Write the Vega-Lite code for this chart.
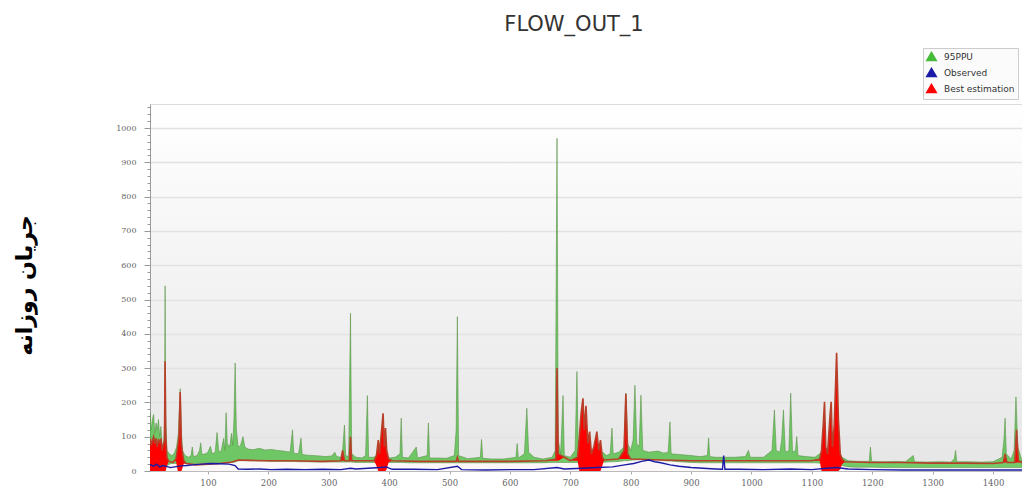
{
  "$schema": "https://vega.github.io/schema/vega-lite/v6.json",
  "width": 872,
  "height": 367,
  "autosize": {"type": "none"},
  "padding": {"left": 150, "top": 104, "right": 0, "bottom": 17},
  "background": "#ffffff",
  "title": {"text": "FLOW_OUT_1", "font": "DejaVu Sans", "fontSize": 21, "fontWeight": "normal", "color": "#333333", "anchor": "middle", "dx": -12, "offset": -4, "baseline": "alphabetic"},
  "config": {
    "view": {"stroke": "#dddddd", "fill": {"gradient": "linear", "x1": 0, "y1": 0, "x2": 0, "y2": 1, "stops": [{"offset": 0, "color": "#ffffff"}, {"offset": 1, "color": "#e6e6e6"}]}}
  },
  "datasets": {
    "ppu": [
      {"t":0,"lo":14,"hi":60},{"t":2,"lo":14,"hi":110},{"t":4,"lo":14,"hi":170},{"t":6,"lo":14,"hi":120},{"t":8,"lo":14,"hi":150},{"t":10,"lo":14,"hi":165},{"t":12,"lo":14,"hi":110},{"t":14,"lo":14,"hi":140},{"t":16,"lo":14,"hi":120},{"t":18,"lo":14,"hi":150},{"t":20,"lo":14,"hi":100},{"t":22,"lo":14,"hi":130},{"t":24,"lo":14,"hi":80},{"t":26,"lo":14,"hi":60},{"t":28,"lo":14,"hi":130},{"t":29,"lo":14,"hi":540},{"t":30,"lo":14,"hi":160},{"t":32,"lo":16,"hi":60},{"t":36,"lo":20,"hi":50},{"t":40,"lo":22,"hi":45},{"t":44,"lo":22,"hi":50},{"t":48,"lo":22,"hi":70},{"t":51,"lo":20,"hi":110},{"t":54,"lo":20,"hi":240},{"t":56,"lo":20,"hi":110},{"t":58,"lo":22,"hi":60},{"t":62,"lo":22,"hi":45},{"t":68,"lo":22,"hi":40},{"t":72,"lo":22,"hi":45},{"t":74,"lo":22,"hi":70},{"t":76,"lo":22,"hi":42},{"t":82,"lo":22,"hi":45},{"t":86,"lo":22,"hi":60},{"t":88,"lo":22,"hi":82},{"t":90,"lo":22,"hi":48},{"t":96,"lo":24,"hi":50},{"t":100,"lo":24,"hi":55},{"t":104,"lo":24,"hi":72},{"t":107,"lo":24,"hi":50},{"t":112,"lo":24,"hi":55},{"t":115,"lo":24,"hi":112},{"t":118,"lo":24,"hi":55},{"t":122,"lo":24,"hi":60},{"t":126,"lo":24,"hi":95},{"t":128,"lo":24,"hi":60},{"t":130,"lo":24,"hi":170},{"t":132,"lo":24,"hi":80},{"t":136,"lo":25,"hi":70},{"t":139,"lo":25,"hi":110},{"t":141,"lo":25,"hi":75},{"t":143,"lo":26,"hi":150},{"t":145,"lo":26,"hi":315},{"t":147,"lo":28,"hi":120},{"t":150,"lo":30,"hi":70},{"t":154,"lo":30,"hi":75},{"t":158,"lo":30,"hi":100},{"t":161,"lo":30,"hi":70},{"t":166,"lo":30,"hi":64},{"t":175,"lo":30,"hi":62},{"t":185,"lo":29,"hi":66},{"t":195,"lo":29,"hi":61},{"t":205,"lo":28,"hi":63},{"t":215,"lo":28,"hi":60},{"t":225,"lo":28,"hi":58},{"t":232,"lo":28,"hi":56},{"t":236,"lo":28,"hi":55},{"t":240,"lo":28,"hi":120},{"t":242,"lo":28,"hi":52},{"t":250,"lo":27,"hi":50},{"t":254,"lo":27,"hi":96},{"t":256,"lo":27,"hi":48},{"t":265,"lo":27,"hi":46},{"t":275,"lo":26,"hi":45},{"t":285,"lo":26,"hi":44},{"t":295,"lo":26,"hi":42},{"t":305,"lo":26,"hi":44},{"t":310,"lo":26,"hi":55},{"t":313,"lo":26,"hi":42},{"t":320,"lo":26,"hi":40},{"t":323,"lo":26,"hi":60},{"t":326,"lo":26,"hi":134},{"t":328,"lo":26,"hi":45},{"t":333,"lo":26,"hi":42},{"t":336,"lo":26,"hi":460},{"t":338,"lo":26,"hi":50},{"t":345,"lo":25,"hi":40},{"t":355,"lo":25,"hi":38},{"t":361,"lo":25,"hi":45},{"t":364,"lo":25,"hi":220},{"t":366,"lo":25,"hi":40},{"t":375,"lo":25,"hi":40},{"t":389,"lo":25,"hi":60},{"t":400,"lo":25,"hi":38},{"t":410,"lo":25,"hi":40},{"t":418,"lo":25,"hi":50},{"t":420,"lo":25,"hi":154},{"t":422,"lo":25,"hi":40},{"t":432,"lo":24,"hi":38},{"t":445,"lo":24,"hi":70},{"t":447,"lo":24,"hi":38},{"t":463,"lo":24,"hi":45},{"t":465,"lo":24,"hi":140},{"t":467,"lo":24,"hi":38},{"t":480,"lo":24,"hi":38},{"t":495,"lo":24,"hi":37},{"t":508,"lo":24,"hi":45},{"t":511,"lo":24,"hi":120},{"t":513,"lo":24,"hi":450},{"t":515,"lo":24,"hi":45},{"t":530,"lo":24,"hi":36},{"t":551,"lo":24,"hi":40},{"t":553,"lo":24,"hi":92},{"t":555,"lo":24,"hi":37},{"t":570,"lo":24,"hi":35},{"t":590,"lo":24,"hi":35},{"t":610,"lo":24,"hi":40},{"t":612,"lo":24,"hi":80},{"t":614,"lo":24,"hi":38},{"t":624,"lo":24,"hi":50},{"t":628,"lo":24,"hi":183},{"t":631,"lo":24,"hi":55},{"t":640,"lo":24,"hi":40},{"t":655,"lo":24,"hi":35},{"t":670,"lo":25,"hi":40},{"t":675,"lo":25,"hi":60},{"t":678,"lo":25,"hi":970},{"t":680,"lo":25,"hi":90},{"t":684,"lo":25,"hi":50},{"t":688,"lo":25,"hi":220},{"t":690,"lo":25,"hi":45},{"t":700,"lo":25,"hi":40},{"t":708,"lo":25,"hi":60},{"t":711,"lo":25,"hi":290},{"t":713,"lo":25,"hi":80},{"t":722,"lo":25,"hi":120},{"t":735,"lo":25,"hi":60},{"t":750,"lo":25,"hi":60},{"t":760,"lo":26,"hi":45},{"t":766,"lo":27,"hi":50},{"t":769,"lo":27,"hi":125},{"t":771,"lo":27,"hi":50},{"t":780,"lo":28,"hi":55},{"t":789,"lo":30,"hi":70},{"t":792,"lo":30,"hi":227},{"t":795,"lo":30,"hi":80},{"t":800,"lo":31,"hi":60},{"t":804,"lo":32,"hi":90},{"t":807,"lo":32,"hi":250},{"t":810,"lo":33,"hi":80},{"t":814,"lo":33,"hi":70},{"t":817,"lo":34,"hi":221},{"t":820,"lo":34,"hi":60},{"t":830,"lo":34,"hi":55},{"t":845,"lo":32,"hi":58},{"t":855,"lo":30,"hi":52},{"t":862,"lo":29,"hi":55},{"t":865,"lo":29,"hi":143},{"t":867,"lo":29,"hi":50},{"t":880,"lo":27,"hi":48},{"t":900,"lo":25,"hi":45},{"t":915,"lo":24,"hi":42},{"t":927,"lo":24,"hi":45},{"t":929,"lo":24,"hi":96},{"t":931,"lo":24,"hi":42},{"t":940,"lo":24,"hi":40},{"t":970,"lo":24,"hi":40},{"t":990,"lo":24,"hi":42},{"t":995,"lo":24,"hi":60},{"t":998,"lo":24,"hi":40},{"t":1020,"lo":24,"hi":40},{"t":1034,"lo":24,"hi":60},{"t":1038,"lo":24,"hi":178},{"t":1041,"lo":24,"hi":60},{"t":1047,"lo":24,"hi":55},{"t":1050,"lo":24,"hi":90},{"t":1053,"lo":24,"hi":178},{"t":1056,"lo":24,"hi":55},{"t":1062,"lo":24,"hi":60},{"t":1065,"lo":24,"hi":227},{"t":1068,"lo":24,"hi":55},{"t":1073,"lo":24,"hi":60},{"t":1075,"lo":24,"hi":100},{"t":1077,"lo":24,"hi":45},{"t":1090,"lo":24,"hi":42},{"t":1105,"lo":24,"hi":40},{"t":1121,"lo":22,"hi":60},{"t":1141,"lo":20,"hi":60},{"t":1150,"lo":16,"hi":40},{"t":1160,"lo":12,"hi":30},{"t":1175,"lo":11,"hi":28},{"t":1195,"lo":11,"hi":28},{"t":1197,"lo":11,"hi":70},{"t":1199,"lo":11,"hi":28},{"t":1220,"lo":10,"hi":27},{"t":1240,"lo":10,"hi":28},{"t":1255,"lo":10,"hi":27},{"t":1268,"lo":10,"hi":45},{"t":1270,"lo":10,"hi":27},{"t":1290,"lo":10,"hi":26},{"t":1310,"lo":10,"hi":27},{"t":1330,"lo":10,"hi":26},{"t":1336,"lo":10,"hi":35},{"t":1338,"lo":10,"hi":60},{"t":1340,"lo":10,"hi":27},{"t":1360,"lo":10,"hi":27},{"t":1380,"lo":10,"hi":26},{"t":1400,"lo":10,"hi":27},{"t":1415,"lo":10,"hi":40},{"t":1418,"lo":10,"hi":90},{"t":1420,"lo":10,"hi":154},{"t":1422,"lo":10,"hi":50},{"t":1430,"lo":10,"hi":35},{"t":1435,"lo":10,"hi":60},{"t":1438,"lo":10,"hi":216},{"t":1441,"lo":10,"hi":70},{"t":1448,"lo":10,"hi":30}
    ],
    "best": [
      {"t":0,"hi":40,"lo":0},{"t":2,"hi":70,"lo":0},{"t":4,"hi":95,"lo":0},{"t":6,"hi":75,"lo":0},{"t":8,"hi":90,"lo":0},{"t":10,"hi":100,"lo":0},{"t":12,"hi":80,"lo":0},{"t":14,"hi":95,"lo":0},{"t":16,"hi":70,"lo":0},{"t":18,"hi":90,"lo":0},{"t":20,"hi":85,"lo":0},{"t":22,"hi":95,"lo":0},{"t":24,"hi":60,"lo":0},{"t":26,"hi":75,"lo":0},{"t":28,"hi":90,"lo":0},{"t":29,"hi":320,"lo":0},{"t":30,"hi":110,"lo":0},{"t":32,"hi":40,"lo":15},{"t":35,"hi":28,"lo":28},{"t":42,"hi":25,"lo":25},{"t":47,"hi":35,"lo":30},{"t":50,"hi":70,"lo":0},{"t":52,"hi":100,"lo":0},{"t":54,"hi":230,"lo":0},{"t":56,"hi":80,"lo":0},{"t":58,"hi":50,"lo":10},{"t":60,"hi":30,"lo":22},{"t":64,"hi":22,"lo":22},{"t":80,"hi":18,"lo":18},{"t":100,"hi":20,"lo":20},{"t":120,"hi":22,"lo":22},{"t":140,"hi":26,"lo":26},{"t":150,"hi":32,"lo":32},{"t":170,"hi":31,"lo":31},{"t":200,"hi":30,"lo":30},{"t":230,"hi":30,"lo":30},{"t":260,"hi":29,"lo":29},{"t":290,"hi":28,"lo":28},{"t":320,"hi":30,"lo":30},{"t":323,"hi":60,"lo":30},{"t":326,"hi":30,"lo":30},{"t":334,"hi":30,"lo":30},{"t":336,"hi":100,"lo":30},{"t":338,"hi":30,"lo":30},{"t":375,"hi":30,"lo":30},{"t":379,"hi":45,"lo":15},{"t":382,"hi":90,"lo":0},{"t":384,"hi":50,"lo":0},{"t":387,"hi":110,"lo":0},{"t":390,"hi":168,"lo":0},{"t":392,"hi":70,"lo":0},{"t":394,"hi":125,"lo":0},{"t":396,"hi":60,"lo":5},{"t":399,"hi":35,"lo":25},{"t":405,"hi":30,"lo":30},{"t":450,"hi":28,"lo":28},{"t":511,"hi":28,"lo":28},{"t":513,"hi":40,"lo":28},{"t":515,"hi":28,"lo":28},{"t":550,"hi":28,"lo":28},{"t":600,"hi":28,"lo":28},{"t":660,"hi":30,"lo":30},{"t":676,"hi":35,"lo":30},{"t":678,"hi":300,"lo":30},{"t":680,"hi":50,"lo":30},{"t":690,"hi":40,"lo":40},{"t":700,"hi":30,"lo":30},{"t":712,"hi":40,"lo":30},{"t":715,"hi":100,"lo":0},{"t":718,"hi":170,"lo":0},{"t":721,"hi":212,"lo":0},{"t":723,"hi":120,"lo":0},{"t":726,"hi":190,"lo":0},{"t":729,"hi":80,"lo":0},{"t":732,"hi":115,"lo":0},{"t":735,"hi":50,"lo":0},{"t":739,"hi":70,"lo":0},{"t":744,"hi":115,"lo":0},{"t":747,"hi":60,"lo":0},{"t":750,"hi":90,"lo":0},{"t":753,"hi":40,"lo":15},{"t":756,"hi":32,"lo":32},{"t":780,"hi":35,"lo":35},{"t":789,"hi":60,"lo":35},{"t":792,"hi":225,"lo":35},{"t":795,"hi":50,"lo":35},{"t":800,"hi":35,"lo":35},{"t":850,"hi":32,"lo":32},{"t":900,"hi":30,"lo":30},{"t":1000,"hi":30,"lo":30},{"t":1050,"hi":30,"lo":30},{"t":1100,"hi":30,"lo":30},{"t":1113,"hi":35,"lo":30},{"t":1116,"hi":60,"lo":0},{"t":1119,"hi":140,"lo":0},{"t":1121,"hi":202,"lo":0},{"t":1123,"hi":70,"lo":0},{"t":1126,"hi":50,"lo":0},{"t":1130,"hi":160,"lo":0},{"t":1132,"hi":202,"lo":0},{"t":1134,"hi":70,"lo":0},{"t":1137,"hi":130,"lo":0},{"t":1141,"hi":345,"lo":0},{"t":1144,"hi":150,"lo":0},{"t":1147,"hi":50,"lo":5},{"t":1150,"hi":35,"lo":20},{"t":1155,"hi":27,"lo":27},{"t":1200,"hi":25,"lo":25},{"t":1250,"hi":25,"lo":25},{"t":1300,"hi":23,"lo":23},{"t":1350,"hi":23,"lo":23},{"t":1400,"hi":22,"lo":22},{"t":1417,"hi":25,"lo":25},{"t":1420,"hi":50,"lo":25},{"t":1423,"hi":25,"lo":25},{"t":1436,"hi":25,"lo":25},{"t":1439,"hi":120,"lo":25},{"t":1442,"hi":30,"lo":25},{"t":1448,"hi":25,"lo":25}
    ],
    "obs": [
      {"t":0,"hi":15},{"t":5,"hi":18},{"t":10,"hi":14},{"t":15,"hi":20},{"t":20,"hi":12},{"t":25,"hi":16},{"t":30,"hi":14},{"t":38,"hi":10},{"t":45,"hi":12},{"t":55,"hi":15},{"t":65,"hi":16},{"t":75,"hi":18},{"t":90,"hi":20},{"t":105,"hi":22},{"t":120,"hi":21},{"t":135,"hi":20},{"t":145,"hi":16},{"t":150,"hi":6},{"t":165,"hi":5},{"t":185,"hi":6},{"t":205,"hi":4},{"t":230,"hi":5},{"t":260,"hi":4},{"t":290,"hi":5},{"t":320,"hi":4},{"t":336,"hi":8},{"t":345,"hi":6},{"t":365,"hi":8},{"t":385,"hi":10},{"t":395,"hi":12},{"t":405,"hi":5},{"t":440,"hi":5},{"t":480,"hi":4},{"t":513,"hi":14},{"t":520,"hi":4},{"t":560,"hi":3},{"t":600,"hi":4},{"t":640,"hi":4},{"t":678,"hi":10},{"t":690,"hi":6},{"t":720,"hi":8},{"t":745,"hi":10},{"t":770,"hi":12},{"t":790,"hi":18},{"t":805,"hi":22},{"t":818,"hi":28},{"t":830,"hi":32},{"t":840,"hi":27},{"t":850,"hi":24},{"t":865,"hi":18},{"t":880,"hi":14},{"t":900,"hi":10},{"t":920,"hi":8},{"t":940,"hi":6},{"t":952,"hi":5},{"t":954,"hi":45},{"t":956,"hi":5},{"t":980,"hi":5},{"t":1020,"hi":4},{"t":1065,"hi":6},{"t":1100,"hi":4},{"t":1125,"hi":8},{"t":1141,"hi":10},{"t":1160,"hi":6},{"t":1200,"hi":4},{"t":1250,"hi":3},{"t":1300,"hi":3},{"t":1350,"hi":3},{"t":1400,"hi":3},{"t":1448,"hi":3}
    ]
  },
  "encoding": {
    "x": {
      "field": "t", "type": "quantitative",
      "scale": {"domain": [4, 1448], "nice": false, "zero": false},
      "axis": {"title": null, "format": "d", "values": [100,200,300,400,500,600,700,800,900,1000,1100,1200,1300,1400], "labelFont": "DejaVu Serif", "labelFontSize": 8.5, "labelColor": "#666666", "tickSize": 3, "tickColor": "#aaaaaa", "domainColor": "#bbbbbb", "grid": false, "labelPadding": 4}
    },
    "y": {
      "field": "hi", "type": "quantitative",
      "scale": {"domain": [0, 1070], "nice": false},
      "axis": {
        "title": "جریان روزانه", "titleFont": "DejaVu Sans", "titleFontSize": 22, "titleFontWeight": "bold", "titleColor": "#000000",
        "titleX": -126, "titleY": 181, "titleAngle": 270, "titleAlign": "center", "titleBaseline": "middle",
        "format": "d",
        "values": [0,20,40,60,80,100,120,140,160,180,200,220,240,260,280,300,320,340,360,380,400,420,440,460,480,500,520,540,560,580,600,620,640,660,680,700,720,740,760,780,800,820,840,860,880,900,920,940,960,980,1000,1020,1040,1060],
        "labelExpr": "datum.value % 100 === 0 ? datum.label : ''",
        "labelOverlap": false, "labelFont": "DejaVu Serif", "labelFontSize": 8, "labelColor": "#666666", "labelPadding": 8,
        "tickSize": {"condition": {"test": "datum.value % 100 === 0", "value": 6}, "value": 3},
        "tickColor": "#999999", "domainColor": "#999999",
        "grid": true, "gridColor": "#e2e2e2", "gridWidth": 1.5,
        "gridOpacity": {"condition": {"test": "datum.value % 100 === 0 && datum.value > 0", "value": 1}, "value": 0}
      }
    }
  },
  "layer": [
    {
      "data": {"name": "best"},
      "mark": {"type": "area", "fill": "#fbf7f8", "clip": true},
      "encoding": {}
    },
    {
      "data": {"name": "ppu"},
      "mark": {"type": "area", "fillOpacity": 0.75, "stroke": "#5a9448", "strokeWidth": 0.6, "clip": true},
      "encoding": {
        "y2": {"field": "lo"},
        "color": {
          "datum": "95PPU", "type": "nominal",
          "scale": {"domain": ["95PPU", "Observed", "Best estimation"], "range": ["#45bb38", "#1a1aa6", "#ff0000"]},
          "legend": {
            "title": null, "orient": "none", "legendX": 773, "legendY": -56, "direction": "vertical",
            "symbolType": "triangle-up", "symbolSize": 90, "labelFont": "DejaVu Sans", "labelFontSize": 9, "labelColor": "#333333",
            "padding": 3, "rowPadding": 1, "strokeColor": "#cccccc", "fillColor": "#fbfbfb", "labelOffset": 7
          }
        }
      }
    },
    {
      "data": {"name": "best"},
      "mark": {"type": "area", "clip": true},
      "encoding": {"y2": {"field": "lo"}, "color": {"datum": "Best estimation", "type": "nominal"}}
    },
    {
      "data": {"name": "best"},
      "mark": {"type": "line", "stroke": "#b8402a", "strokeWidth": 1.6, "clip": true},
      "encoding": {}
    },
    {
      "data": {"name": "obs"},
      "mark": {"type": "line", "strokeWidth": 1.4, "clip": true},
      "encoding": {"color": {"datum": "Observed", "type": "nominal"}}
    }
  ]
}
